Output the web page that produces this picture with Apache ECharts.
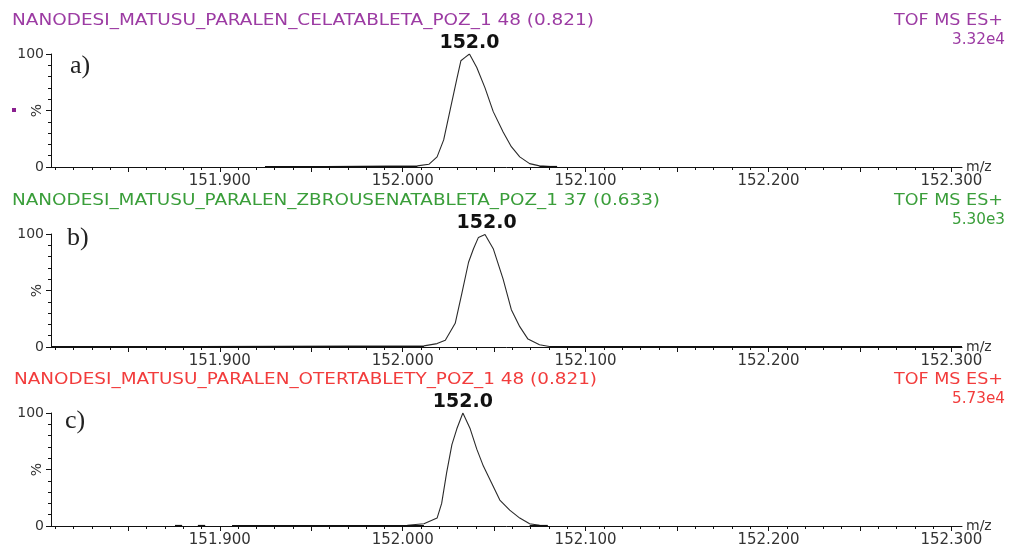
<!DOCTYPE html>
<html>
<head>
<meta charset="utf-8">
<script src="https://cdn.jsdelivr.net/npm/echarts@6/dist/echarts.min.js"></script>
<style>html,body{margin:0;padding:0;background:#fff}#c{width:1010px;height:550px}</style>
</head>
<body>
<div id="c"></div>
<script>
// ---------- data ----------
const titles = [
  "NANODESI_MATUSU_PARALEN_CELATABLETA_POZ_1 48 (0.821)",
  "NANODESI_MATUSU_PARALEN_ZBROUSENATABLETA_POZ_1 37 (0.633)",
  "NANODESI_MATUSU_PARALEN_OTERTABLETY_POZ_1 48 (0.821)"
];
const modeLabels = ["TOF MS ES+", "TOF MS ES+", "TOF MS ES+"];
const intensityLabels = ["3.32e4", "5.30e3", "5.73e4"];
const panelLetters = ["a)", "b)", "c)"];
const peakLabels = ["152.0", "152.0", "152.0"];

const mzA = [151.9247, 152.0080, 152.0143, 152.0188, 152.0224, 152.0260, 152.0296, 152.0318, 152.0341, 152.0365, 152.0405, 152.0450, 152.0495, 152.0549, 152.0594, 152.0640, 152.0694, 152.0748, 152.0844];
const intA = [0, 1, 2.4, 9, 24, 51, 78, 94, 97, 100, 88, 70, 49, 31, 18, 9, 3, 1, 0];

const mzB = [151.8080, 152.0116, 152.0188, 152.0233, 152.0287, 152.0324, 152.0360, 152.0387, 152.0414, 152.0450, 152.0459, 152.0495, 152.0549, 152.0594, 152.0640, 152.0685, 152.0748, 152.0802, 152.3058];
const intB = [0, 1, 3, 6, 21, 48, 75, 87, 97, 99.5, 100, 87, 60, 33, 18, 7, 2, 0.5, 0];

const mzC = [151.9067, 152.0025, 152.0116, 152.0188, 152.0213, 152.0240, 152.0269, 152.0296, 152.0329, 152.0369, 152.0405, 152.0441, 152.0486, 152.0531, 152.0585, 152.0640, 152.0694, 152.0748, 152.0793];
const intC = [0, 0.6, 2, 7, 20, 47, 72, 86, 100, 86, 68, 53, 38, 23, 14, 7, 2, 0.6, 0];

// baseline noise stretches (m/z ranges at ~0 %)
const baseA = [[151.9247, 152.0080], [152.0748, 152.0844]];
const baseB = [[151.8080, 152.0116], [152.0802, 152.3058]];
const baseC = [[151.8755, 151.8794], [151.8880, 151.8920], [151.9067, 152.0116], [152.0694, 152.0793]];

const xMin = 151.8077, xMax = 152.3058;
const xLabelValues = [151.9, 152.0, 152.1, 152.2, 152.3];
const xMajorTicks = [151.85, 151.9, 151.95, 152.0, 152.05, 152.1, 152.15, 152.2, 152.25, 152.3];
const yLabelValues = [0, 100];

// ---------- layout ----------
const mzs = [mzA, mzB, mzC], ints = [intA, intB, intC], bases = [baseA, baseB, baseC];
const titleColors = ["#9c3ba3", "#3a9e3a", "#f23c3c"];
const panelTops = [54, 234, 413];
const panelH = 113;
const titleRight = [594, 660, 597];
const titleLeft = [12, 12, 14];
const letterPos = [[70, 66], [67, 238], [65, 421]];

const xMinorTicks = [];
for (let k = 15181; k <= 15230; k++) xMinorTicks.push(k / 100);

const mctx = document.createElement('canvas').getContext('2d');
function scaleFor(text, font, target) { mctx.font = font; return target / mctx.measureText(text).width; }
const hdrFont = '15px "DejaVu Sans"';

const grids = [], xAxes = [], yAxes = [], series = [], graphics = [];
for (let i = 0; i < 3; i++) {
  grids.push({ left: 51, right: 48, top: panelTops[i], height: panelH, containLabel: false, outerBoundsMode: 'none' });
  xAxes.push({
    gridIndex: i, type: 'value', min: xMin, max: xMax,
    axisLine: { lineStyle: { color: '#111', width: 1 } },
    axisTick: { customValues: xMajorTicks, length: 5, lineStyle: { color: '#111' } },
    axisLabel: { customValues: xLabelValues, formatter: v => v.toFixed(3), color: '#333', fontFamily: 'DejaVu Sans', fontSize: 15, margin: 7 },
    splitLine: { show: false },
    name: 'm/z', nameLocation: 'end', nameGap: 4, nameMoveOverlap: false,
    nameTextStyle: { color: '#333', fontFamily: 'DejaVu Sans', fontSize: 14, verticalAlign: 'middle', padding: [0, 0, 2, 0] }
  });
  yAxes.push({
    gridIndex: i, type: 'value', min: 0, max: 100, interval: 50,
    axisLine: { show: true, lineStyle: { color: '#111', width: 1 } },
    axisTick: { show: true, length: 5, lineStyle: { color: '#111' } },
    minorTick: { show: true, splitNumber: 5, length: 3, lineStyle: { color: '#111' } },
    axisLabel: { formatter: v => (yLabelValues.indexOf(v) >= 0 ? String(v) : ''), color: '#333', fontFamily: 'DejaVu Sans', fontSize: 14, margin: 7 },
    splitLine: { show: false }, minorSplitLine: { show: false },
    name: '%', nameLocation: 'middle', nameRotate: 90, nameGap: 7, nameMoveOverlap: false,
    nameTextStyle: { color: '#333', fontFamily: 'DejaVu Sans', fontSize: 14 }
  });
  series.push({
    type: 'line', xAxisIndex: i, yAxisIndex: i, symbol: 'none', smooth: false,
    lineStyle: { color: '#2a2a2a', width: 1.1 },
    data: mzs[i].map((m, k) => [m, ints[i][k]]),
    markPoint: {
      symbol: 'circle', symbolSize: 1, itemStyle: { color: 'rgba(0,0,0,0)' },
      label: { show: true, position: 'top', distance: 1, formatter: peakLabels[i], color: '#111', fontFamily: 'DejaVu Sans', fontWeight: 'bold', fontSize: 19 },
      data: [{ type: 'max', valueDim: 'y' }]
    },
    z: 3
  });
  bases[i].forEach(r => {
    series.push({
      type: 'line', xAxisIndex: i, yAxisIndex: i, symbol: 'none',
      lineStyle: { color: '#111', width: 2.2 },
      data: [[r[0], 0], [r[1], 0]], z: 4
    });
  });

  const top = panelTops[i];
  graphics.push({
    type: 'text', x: titleLeft[i], y: top - 33,
    scaleX: scaleFor(titles[i], hdrFont, titleRight[i] - titleLeft[i]),
    style: { text: titles[i], fill: titleColors[i], font: hdrFont, textAlign: 'left', textVerticalAlign: 'middle', align: 'left', verticalAlign: 'middle' }
  });
  graphics.push({
    type: 'text', x: 1003, y: top - 33,
    scaleX: scaleFor(modeLabels[i], hdrFont, 109),
    style: { text: modeLabels[i], fill: titleColors[i], font: hdrFont, textAlign: 'right', textVerticalAlign: 'middle', align: 'right', verticalAlign: 'middle' }
  });
  graphics.push({
    type: 'text', x: 1005, y: top - 14,
    scaleX: scaleFor(intensityLabels[i], hdrFont, 53),
    style: { text: intensityLabels[i], fill: titleColors[i], font: hdrFont, textAlign: 'right', textVerticalAlign: 'middle', align: 'right', verticalAlign: 'middle' }
  });
  graphics.push({
    type: 'text', x: letterPos[i][0], y: letterPos[i][1],
    style: { text: panelLetters[i], fill: '#222', font: '26px "Liberation Serif"', textAlign: 'left', textVerticalAlign: 'middle', align: 'left', verticalAlign: 'middle' }
  });
}
// minor-tick overlay axes
for (let i = 0; i < 3; i++) {
  xAxes.push({
    gridIndex: i, type: 'value', min: xMin, max: xMax, position: 'bottom',
    axisLine: { show: false }, axisLabel: { show: false }, splitLine: { show: false },
    axisTick: { show: true, customValues: xMinorTicks, length: 3, lineStyle: { color: '#111' } }
  });
}
graphics.push({ type: 'rect', shape: { x: 12, y: 108, width: 4, height: 4 }, style: { fill: '#8a1f8f' } });

const chart = echarts.init(document.getElementById('c'), null, { renderer: 'canvas' });
chart.setOption({
  animation: false,
  backgroundColor: '#fff',
  grid: grids, xAxis: xAxes, yAxis: yAxes, series: series, graphic: graphics
});
</script>
</body>
</html>
